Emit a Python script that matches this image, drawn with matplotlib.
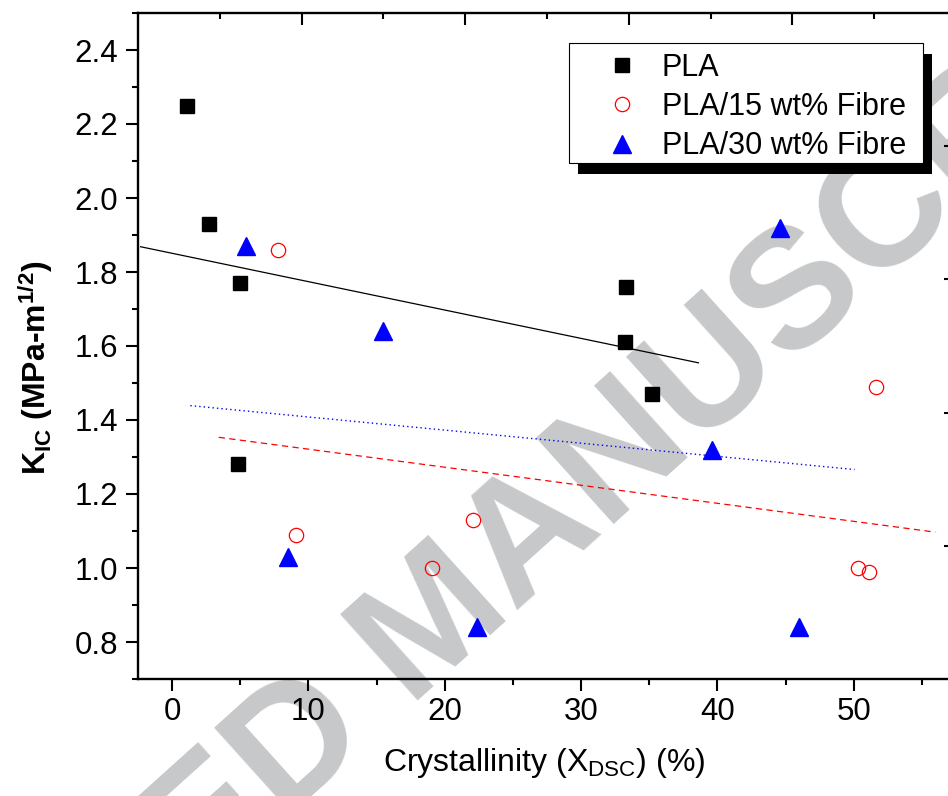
import numpy as np
import matplotlib
matplotlib.use('Agg')
import matplotlib.pyplot as plt
from matplotlib.patches import Rectangle
from matplotlib.ticker import FormatStrFormatter

plt.rcParams['font.family'] = ['Liberation Sans', 'DejaVu Sans']
plt.rcParams['mathtext.default'] = 'regular'

# ---------------- data ----------------
pla_x = [1.1, 2.7, 5.0, 4.8, 33.3, 33.2, 35.2]
pla_y = [2.25, 1.93, 1.77, 1.28, 1.76, 1.61, 1.47]
f15_x = [7.8, 9.1, 19.1, 22.1, 50.3, 51.1, 51.6]
f15_y = [1.86, 1.09, 1.00, 1.13, 1.00, 0.99, 1.49]
f30_x = [5.4, 8.5, 15.5, 22.4, 39.6, 44.6, 46.0]
f30_y = [1.87, 1.03, 1.64, 0.84, 1.32, 1.92, 0.84]
labels = ['PLA', 'PLA/15 wt% Fibre', 'PLA/30 wt% Fibre']
x_ticks = [0, 10, 20, 30, 40, 50]
y_ticks = [0.8, 1.0, 1.2, 1.4, 1.6, 1.8, 2.0, 2.2, 2.4]

W, H = 948, 796
fig = plt.figure(figsize=(W / 100, H / 100), dpi=100)
L, R, T, B = 138, 956, 13, 679
ax = fig.add_axes([L / W, 1 - B / H, (R - L) / W, (B - T) / H])
ax.patch.set_alpha(0)

# watermark behind everything
fig.text(0.460, 0.2155, 'ACCEPTED MANUSCRIPT', rotation=42, rotation_mode='anchor',
         ha='center', va='center', fontsize=122, fontweight='bold',
         color='#c7c8ca', zorder=-1)


def fit_line(x, y):
    x = np.asarray(x); y = np.asarray(y)
    k, b = np.polyfit(x, y, 1)
    span = x.max() - x.min()
    xs = np.array([x.min() - 0.1 * span, x.max() + 0.1 * span])
    return xs, k * xs + b


xs, ys = fit_line(pla_x, pla_y)
ax.plot(xs, ys, color='black', lw=0.9, zorder=2)
xs, ys = fit_line(f15_x, f15_y)
ax.plot(xs, ys, color='#ff0000', lw=0.9, ls=(0, (5, 3.5)), zorder=2)
xs, ys = fit_line(f30_x, f30_y)
ax.plot(xs, ys, color='#0000ff', lw=1.0, ls=(0, (1, 2.2)), zorder=2)

h1, = ax.plot(pla_x, pla_y, ls='none', marker='s', ms=9.6, color='black', zorder=3)
h2, = ax.plot(f15_x, f15_y, ls='none', marker='o', ms=10.3, mfc='none', mec='#ff0000',
              mew=0.9, zorder=3)
h3, = ax.plot(f30_x, f30_y, ls='none', marker='^', ms=13, color='#0000ff', zorder=3)

ax.set_xlim(-2.5, 57.5)
ax.set_ylim(0.7, 2.5)
ax.set_xticks(x_ticks)
ax.set_xticks(np.arange(5, 56, 10), minor=True)
ax.set_yticks(y_ticks)
ax.set_yticks(np.arange(0.7, 2.55, 0.2), minor=True)
ax.yaxis.set_major_formatter(FormatStrFormatter('%.1f'))

for s in ax.spines.values():
    s.set_linewidth(1.7)
ax.tick_params(which='major', direction='out', length=8.6, width=1.5, labelsize=22.5,
               top=False, right=False)
ax.tick_params(which='minor', direction='out', length=4.3, width=1.5, top=False, right=False)
ax.tick_params(axis='y', pad=5.5)
ax.tick_params(axis='x', pad=4.0)

ax.set_xlabel('Crystallinity (X$_{DSC}$) (%)', fontsize=23)
ax.set_ylabel('K$_{IC}$ (MPa-m$^{1/2}$)', fontsize=23, fontweight='bold')
ax.xaxis.set_label_coords(0.496, -0.100)
ax.yaxis.set_label_coords(-0.102, 0.467)

# secondary (cropped) axes ticks on top and right
axt = ax.twiny()
axt.set_xlim(0, 1)
axt.set_xticks([0.2, 0.4, 0.6, 0.8])
axt.set_xticks([0.1, 0.3, 0.5, 0.7, 0.9], minor=True)
axt.tick_params(axis='x', which='major', direction='in', length=8.6, width=1.5,
                labeltop=False, top=True)
axt.tick_params(axis='x', which='minor', direction='in', length=4.3, width=1.5, top=True)
for s in axt.spines.values():
    s.set_visible(False)
axr = ax.twinx()
axr.set_ylim(0, 1)
axr.set_yticks([0.2, 0.4, 0.6, 0.8])
axr.tick_params(axis='y', which='major', direction='in', length=8.6, width=1.5,
                labelright=False, right=True)
for s in axr.spines.values():
    s.set_visible(False)


# legend box with solid shadow (pixel coordinates converted to axes fraction)
def px2ax(x, y):
    return (x - L) / (R - L), (B - y) / (B - T)


bx0, by0, bx1, by1 = 569, 43, 923, 163
sx, sy = 9, 11
p0 = px2ax(bx0 + sx, by1 + sy); p1 = px2ax(bx1 + sx, by0 + sy)
ax.add_patch(Rectangle(p0, p1[0] - p0[0], p1[1] - p0[1], transform=ax.transAxes,
                       facecolor='black', edgecolor='none', zorder=10, clip_on=False))
p0 = px2ax(bx0, by1); p1 = px2ax(bx1, by0)
ax.add_patch(Rectangle(p0, p1[0] - p0[0], p1[1] - p0[1], transform=ax.transAxes,
                       facecolor='white', edgecolor='black', lw=0.8, zorder=11,
                       clip_on=False))

leg = ax.legend([h1, h2, h3], labels, loc='upper left',
                bbox_to_anchor=px2ax(607, 53), bbox_transform=ax.transAxes,
                frameon=False, fontsize=22, handlelength=1.0, handletextpad=0.8,
                labelspacing=0.3, borderpad=0, borderaxespad=0, numpoints=1)
leg.set_zorder(12)

fig.savefig('out.png', dpi=100)
